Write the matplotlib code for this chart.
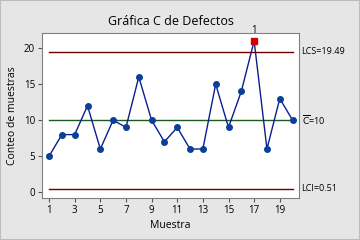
import matplotlib.pyplot as plt
from matplotlib.patches import Rectangle

# conteo de defectos por muestra
muestra = list(range(1, 21))
conteo = [5, 8, 8, 12, 6, 10, 9, 16, 10, 7, 9, 6, 6, 15, 9, 14, 21, 6, 13, 10]
lcs = 19.49
centro = 10
lci = 0.51
fuera = [17]
xticks = [1, 3, 5, 7, 9, 11, 13, 15, 17, 19]
yticks = [0, 5, 10, 15, 20]

plt.rcParams['font.family'] = ['Open Sans', 'DejaVu Sans']

fig = plt.figure(figsize=(3.6, 2.4), dpi=100, facecolor='#e6e6e6')
fig.patches.append(Rectangle((0, 0), 1, 1, transform=fig.transFigure, fill=False,
                             edgecolor='#bdbdbd', linewidth=1.5))
ax = fig.add_axes([42/360, 1-198/240, 257/360, 165/240])
ax.set_facecolor('white')

ax.plot([muestra[0], muestra[-1]], [lcs, lcs], color='#6b0000', lw=1)
ax.plot([muestra[0], muestra[-1]], [centro, centro], color='#1e5a1e', lw=1)
ax.plot([muestra[0], muestra[-1]], [lci, lci], color='#6b0000', lw=1)

ax.plot(muestra, conteo, color='#0a1f8f', lw=1, marker='o', ms=4,
        mfc='#0c3f99', mec='#0c3f99')
for m in fuera:
    ax.plot(m, conteo[m-1], marker='s', ms=4.5, color='#d40000', ls='none')
    ax.text(m, conteo[m-1]+0.7, '1', ha='center', va='bottom', fontsize=7)

ax.set_xlim(0.45, 20.5)
ax.set_ylim(-0.8, 22.1)
ax.set_xticks(xticks)
ax.set_yticks(yticks)
ax.tick_params(labelsize=7, length=3, color='#555555', pad=2)
for s in ax.spines.values():
    s.set_color('#808080')

ax.text(1.01, lcs, 'LCS=19.49', transform=ax.get_yaxis_transform(), fontsize=6.5, va='center')
ax.text(1.01, centro, r'$\overline{\mathrm{C}}$=10', transform=ax.get_yaxis_transform(), fontsize=6.5, va='center')
ax.text(1.01, lci, 'LCI=0.51', transform=ax.get_yaxis_transform(), fontsize=6.5, va='center')

ax.set_title('Gráfica C de Defectos', fontsize=9, pad=6)
ax.set_xlabel('Muestra', fontsize=7.5, labelpad=3)
ax.set_ylabel('Conteo de muestras', fontsize=7.5, labelpad=4)

plt.savefig('out.png', dpi=100, facecolor=fig.get_facecolor())
